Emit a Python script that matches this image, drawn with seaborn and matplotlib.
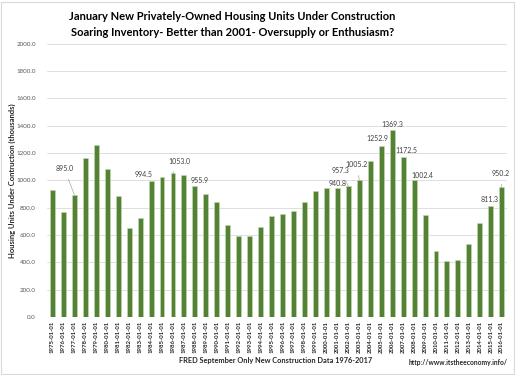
import matplotlib
matplotlib.use("Agg")
import matplotlib.pyplot as plt
import seaborn as sns
import pandas as pd
from matplotlib.patches import Rectangle

# --------------------------------------------
# Data (January housing units under construction, thousands)
# --------------------------------------------
years = list(range(1975, 2017))
dates = [f"{y}-01-01" for y in years]

units = [931, 768, 895.0, 1164, 1261, 1084, 887, 651, 723, 994.5,
         1026, 1053.0, 1036, 955.9, 902, 841, 672, 596, 592, 662,
         738, 757, 775, 843, 924, 943, 940.8, 957.3, 1005.2, 1141,
         1252.9, 1369.3, 1172.5, 1002.4, 750, 479, 408, 420, 537, 687,
         811.3, 950.2]

labelled_years = [1977, 1984, 1986, 1988, 2001, 2002, 2003, 2005,
                  2006, 2007, 2008, 2015, 2016]

y_ticks = [0, 200, 400, 600, 800, 1000, 1200, 1400, 1600, 1800, 2000]

title_lines = ["January New Privately-Owned Housing Units Under Construction",
               "Soaring Inventory- Better than 2001- Oversupply or Enthusiasm?"]
y_title = "Housing Units Under Contruction (thousands)"
x_title = "FRED September Only New Construction Data 1976-2017"
source = "http://www.itstheeconomy.info/"

df = pd.DataFrame({"date": dates, "units": units})

# label placement (pixel offsets from bar top, leader line yes/no)
label_offsets = {
    1977: (-10, 26, True), 1984: (-7, 7, False), 1986: (6, 12, True),
    1988: (5, 6, False), 2001: (0, 5, False), 2002: (-8, 16, True),
    2003: (-3, 15, True), 2005: (-4, 7, False), 2006: (0, 5, False),
    2007: (3, 6, False), 2008: (8, 5, False), 2015: (-1, 7, False),
    2016: (-1, 14, True),
}

# --------------------------------------------
# Style
# --------------------------------------------
sns.set_style("white")
plt.rcParams['font.family'] = ['Lato', 'DejaVu Sans']

fig = plt.figure(figsize=(5.16, 3.75), dpi=100)
ax = fig.add_axes([0.091, 0.155, 0.892, 0.728])

# --------------------------------------------
# Bars
# --------------------------------------------
sns.barplot(data=df, x="date", y="units", color="#548235", width=0.45,
            edgecolor="#c5d9b5", linewidth=0.4, saturation=1, ax=ax)

ax.set_ylim(0, 2000)
ax.set_xlim(-0.5, len(dates) - 0.5)
ax.set_yticks(y_ticks)
ax.set_yticklabels([f"{t:.1f}" for t in y_ticks], fontsize=4.5, color="#595959")
ax.tick_params(axis="x", labelrotation=90, labelsize=4.3, colors="#262626", length=0, pad=3)
ax.tick_params(axis="y", length=0, pad=8)
for lbl in ax.get_xticklabels():
    lbl.set_fontweight("bold")
ax.grid(axis="y", color="#d9d9d9", linewidth=0.6)
ax.set_axisbelow(True)
sns.despine(ax=ax, left=True, bottom=True)
ax.set_xlabel("")
ax.set_ylabel(y_title, fontsize=5.5, fontweight="bold", color="#262626", labelpad=4)
ax.yaxis.set_label_coords(-0.068, 0.5)

# --------------------------------------------
# Data labels
# --------------------------------------------
for yr in labelled_years:
    i = years.index(yr)
    v = units[i]
    dx, dy, lead = label_offsets[yr]
    arrow = dict(arrowstyle="-", color="#a6a6a6", lw=0.5, shrinkA=3, shrinkB=0) if lead else None
    ax.annotate(f"{v:.1f}", xy=(i, v), xytext=(dx, dy), textcoords="offset pixels",
                ha="center", va="center", fontsize=5, color="#404040",
                arrowprops=arrow)

# --------------------------------------------
# Titles and footer text
# --------------------------------------------
fig.text(0.45, 0.957, title_lines[0], ha="center", va="center",
         fontsize=8.0, fontweight="bold", color="#000000")
fig.text(0.45, 0.912, title_lines[1], ha="center", va="center",
         fontsize=8.0, fontweight="bold", color="#000000")
fig.text(0.535, 0.04, x_title, ha="center", va="center",
         fontsize=5.3, fontweight="bold", color="#262626")
fig.text(0.888, 0.032, source, ha="center", va="center",
         fontsize=4.8, fontweight="bold", color="#262626")

fig.patches.append(Rectangle((0.002, 0.003), 0.995, 0.993, transform=fig.transFigure,
                             fill=False, edgecolor="#d9d9d9", linewidth=0.8))

fig.savefig("out.png", dpi=100)
print("Completed Successfully!")
